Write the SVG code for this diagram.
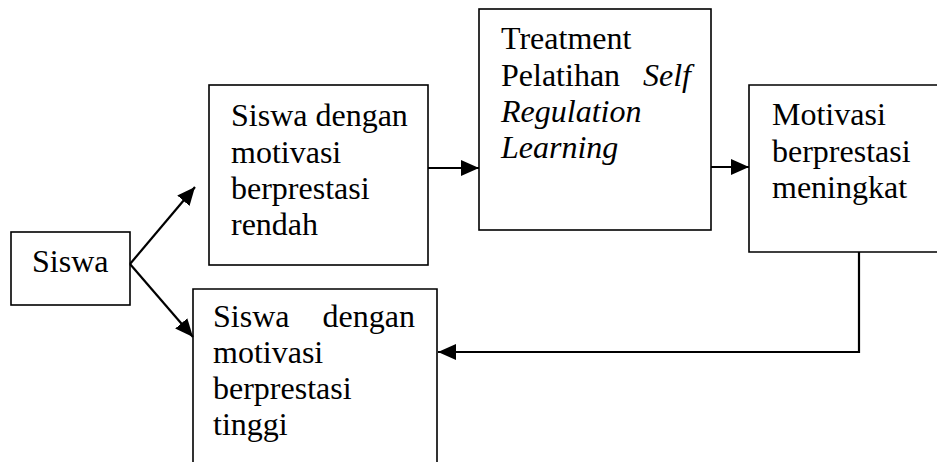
<svg xmlns="http://www.w3.org/2000/svg" width="937" height="462" viewBox="0 0 937 462">
<style>
.box{fill:none;stroke:#000;stroke-width:1.6}
.t{font-family:"Liberation Serif","Times New Roman",serif;font-size:32px;fill:#000}
.i{font-style:italic}
.c{fill:none;stroke:#000;stroke-width:2.2}
</style>
<defs>
<marker id="ah" markerUnits="userSpaceOnUse" viewBox="0 0 18 16" markerWidth="18" markerHeight="16" refX="18" refY="8" orient="auto">
<path d="M0,0 L18,8 L0,16 Z" fill="#000"/>
</marker>
</defs>
<rect width="937" height="462" fill="#fff"/>
<g id="siswa">
<rect class="box" x="11" y="232" width="119" height="73"/>
<text class="t" x="32" y="272">Siswa</text>
</g>
<g id="rendah">
<rect class="box" x="209" y="85" width="219" height="180"/>
<text class="t" x="231" y="126">Siswa dengan</text>
<text class="t" x="231" y="163">motivasi</text>
<text class="t" x="231" y="199">berprestasi</text>
<text class="t" x="231" y="235">rendah</text>
</g>
<g id="treatment">
<rect class="box" x="479" y="9" width="232" height="221"/>
<text class="t" x="501" y="49">Treatment</text>
<text class="t" x="501" y="86">Pelatihan</text>
<text class="t i" x="643" y="86">Self</text>
<text class="t i" x="501" y="122">Regulation</text>
<text class="t i" x="501" y="158">Learning</text>
</g>
<g id="meningkat">
<path class="box" d="M940,85 H749 V252 H940"/>
<text class="t" x="772" y="125">Motivasi</text>
<text class="t" x="772" y="162">berprestasi</text>
<text class="t" x="772" y="198">meningkat</text>
</g>
<g id="tinggi">
<path class="box" d="M193,465 V289 H437 V465"/>
<text class="t" x="213" y="327">Siswa</text>
<text class="t" x="415" y="327" text-anchor="end">dengan</text>
<text class="t" x="213" y="363">motivasi</text>
<text class="t" x="213" y="399">berprestasi</text>
<text class="t" x="213" y="435">tinggi</text>
</g>
<g id="connectors">
<line class="c" x1="130" y1="264" x2="195" y2="187" marker-end="url(#ah)"/>
<line class="c" x1="130" y1="264" x2="193" y2="337" marker-end="url(#ah)"/>
<line class="c" x1="428" y1="168" x2="479" y2="168" marker-end="url(#ah)"/>
<line class="c" x1="711" y1="167" x2="749" y2="167" marker-end="url(#ah)"/>
<polyline class="c" points="859,252 859,352 438,352" marker-end="url(#ah)"/>
</g>
</svg>
